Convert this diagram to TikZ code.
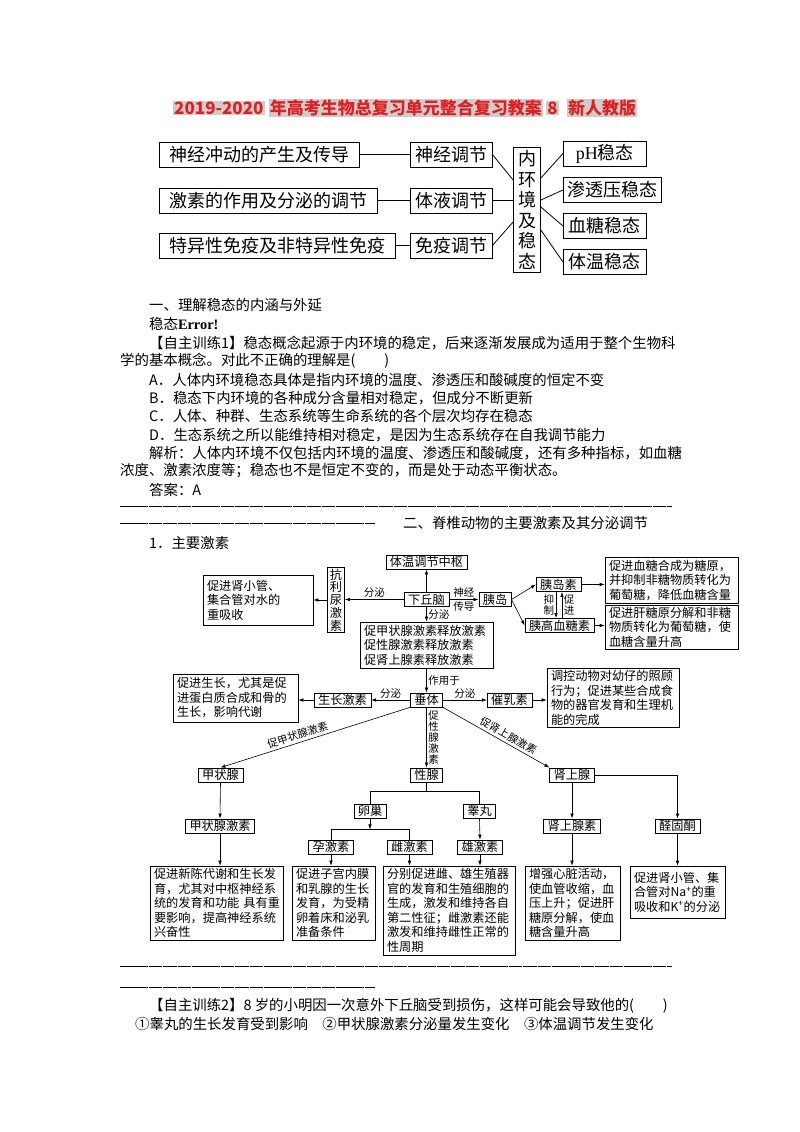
\documentclass[tikz,border=0pt]{standalone}
\usepackage{fontspec}
\setmainfont{Liberation Serif}
\newfontfamily\cjk{Noto Sans CJK SC}
\usetikzlibrary{arrows.meta,positioning}
\definecolor{titlered}{RGB}{228,30,30}
\definecolor{marker}{RGB}{205,205,205}

\tikzset{
  bodytext/.style={anchor=west,inner sep=0pt,font=\cjk\fontsize{14.4}{18}\selectfont},
  hilite/.style={fill=marker,text=titlered,inner sep=1pt,font=\cjk\bfseries\fontsize{17}{20}\selectfont},
  big/.style={draw,line width=0.8pt,inner xsep=10pt,inner ysep=0pt,minimum height=25pt,font=\cjk\fontsize{18}{20.5}\selectfont},
  bx/.style={draw,line width=0.6pt,inner xsep=4pt,inner ysep=2pt,align=left,font=\cjk\fontsize{12.2}{14.5}\selectfont},
  lab/.style={draw,line width=0.6pt,inner xsep=4pt,inner ysep=1.5pt,font=\cjk\fontsize{12.2}{14.5}\selectfont},
  lbl/.style={inner sep=1.5pt,font=\cjk\fontsize{10.5}{10.5}\selectfont},
  vlbl/.style={lbl,align=center,font=\cjk\fontsize{10.5}{11}\selectfont},
  arr/.style={-{Latex[length=5pt,width=3.5pt]},line width=0.6pt},
  sepline/.style={line width=0.9pt,dash pattern=on 13.5pt off 0.9pt}
}

\begin{document}
\begin{tikzpicture}[x=1pt,y=-1pt]
  \path[use as bounding box,fill=white] (0,0) rectangle (800,1132);

  % title
  \node[hilite,anchor=west] (ty) at (173,108) {2019-2020};
  \node[hilite,right=4pt of ty] (tt) {年高考生物总复习单元整合复习教案};
  \node[hilite,right=3pt of tt] (tn) {8};
  \node[hilite,right=8pt of tn] (tv) {新人教版};

  % overview
  \node[big,anchor=west] (n1) at (159,154.5) {神经冲动的产生及传导};
  \node[big,anchor=west] (n2) at (159,200.5) {激素的作用及分泌的调节};
  \node[big,anchor=west] (n3) at (159,245.5) {特异性免疫及非特异性免疫};
  \node[big,inner xsep=5pt] (m1) at (451,154.5) {神经调节};
  \node[big,inner xsep=5pt] (m2) at (451,200.5) {体液调节};
  \node[big,inner xsep=5pt] (m3) at (451,245.5) {免疫调节};
  \node[big,inner xsep=4.5pt,inner ysep=3pt,align=center] (hj) at (527,210) {内\\环\\境\\及\\稳\\态};
  \node[big,inner xsep=4pt,minimum width=83pt,anchor=west] (r1) at (563,153.5) {{\rmfamily pH}稳态};
  \node[big,inner xsep=4pt,minimum width=83pt,anchor=west] (r2) at (563,190) {渗透压稳态};
  \node[big,inner xsep=4pt,minimum width=83pt,anchor=west] (r3) at (563,226) {血糖稳态};
  \node[big,inner xsep=4pt,minimum width=83pt,anchor=west] (r4) at (563,262) {体温稳态};

  \begin{scope}[line width=0.8pt]
    \draw (n1.east) -- (m1.west);
    \draw (n2.east) -- (m2.west);
    \draw (n3.east) -- (m3.west);
    \draw (m1.east) -- ([yshift=30pt]hj.west);
    \draw (m2.east) -- (m2.east -| hj.west);
    \draw (m3.east) -- ([yshift=-12pt]hj.west);
    \draw ([yshift=32pt]hj.east) -- (r1.west);
    \draw ([yshift=10pt]hj.east) -- (r2.west);
    \draw ([yshift=3pt]hj.east) -- (r3.west);
    \draw ([yshift=-20pt]hj.east) -- (r4.west);
  \end{scope}

  % part one
  \node[bodytext] (t1) at (149,305) {一、理解稳态的内涵与外延};
  \node[bodytext] (t2) at (149,324) {稳态{\rmfamily\bfseries Error!}};
  \node[bodytext] (t3) at (149,343) {【自主训练1】稳态概念起源于内环境的稳定，后来逐渐发展成为适用于整个生物科};
  \node[bodytext] (t4) at (120,361) {学的基本概念。对此不正确的理解是(　　)};
  \node[bodytext] (t5) at (149,380) {A．人体内环境稳态具体是指内环境的温度、渗透压和酸碱度的恒定不变};
  \node[bodytext] (t6) at (149,398) {B．稳态下内环境的各种成分含量相对稳定，但成分不断更新};
  \node[bodytext] (t7) at (149,416) {C．人体、种群、生态系统等生命系统的各个层次均存在稳态};
  \node[bodytext] (t8) at (149,435) {D．生态系统之所以能维持相对稳定，是因为生态系统存在自我调节能力};
  \node[bodytext] (t9) at (149,453) {解析：人体内环境不仅包括内环境的温度、渗透压和酸碱度，还有多种指标，如血糖};
  \node[bodytext] (t10) at (120,471) {浓度、激素浓度等；稳态也不是恒定不变的，而是处于动态平衡状态。};
  \node[bodytext] (t11) at (149,490) {答案：A};
  \draw[sepline] (120,506) -- (672,506);
  \draw[sepline] (120,523) -- (375,523);
  \node[bodytext] (t12) at (403,523) {二、脊椎动物的主要激素及其分泌调节};
  \node[bodytext] (t13) at (149,543) {1．主要激素};

  % hormones
  \node[lab] (xqn) at (426.5,599.5) {下丘脑};
  \node[lab] (twzs) at (426.5,562) {体温调节中枢};
  \node[lab,inner xsep=2.5pt,align=center,font=\cjk\fontsize{12.2}{12.8}\selectfont] (klns) at (336,600) {抗\\利\\尿\\激\\素};
  \node[bx,text width=102pt,minimum height=50pt] (sxg) at (258,600) {促进肾小管、\\集合管对水的\\重吸收};
  \node[lab] (yd) at (495,599.5) {胰岛};
  \node[lab] (yds) at (558.5,584.5) {胰岛素};
  \node[lab] (ygxts) at (559.5,625.5) {胰高血糖素};
  \node[bx,text width=125pt,minimum height=46pt] (jx1) at (671.5,580) {促进血糖合成为糖原，\\并抑制非糖物质转化为\\葡萄糖，降低血糖含量};
  \node[bx,text width=125pt,minimum height=42pt] (jx2) at (671.5,627) {促进肝糖原分解和非糖\\物质转化为葡萄糖，使\\血糖含量升高};
  \node[bx,text width=125pt,minimum height=46pt] (sfjs) at (426.5,645) {促甲状腺激素释放激素\\促性腺激素释放激素\\促肾上腺素释放激素};
  \node[lab] (cht) at (426.5,700) {垂体};
  \node[lab] (szjs) at (342.5,700) {生长激素};
  \node[bx,text width=117pt,minimum height=48pt] (szxg) at (235.5,698) {促进生长，尤其是促\\进蛋白质合成和骨的\\生长，影响代谢};
  \node[lab] (crs) at (509.5,700) {催乳素};
  \node[bx,text width=124pt,minimum height=58pt] (crxg) at (613,698) {调控动物对幼仔的照顾\\行为；促进某些合成食\\物的器官发育和生理机\\能的完成};
  \node[lab] (jzx) at (220.5,775) {甲状腺};
  \node[lab] (xx) at (426.5,775) {性腺};
  \node[lab] (sx) at (572,775) {肾上腺};
  \node[lab] (jzxjs) at (220,826) {甲状腺激素};
  \node[lab] (lc) at (370,811) {卵巢};
  \node[lab] (gw) at (479.5,811) {睾丸};
  \node[lab] (yjs) at (331,847) {孕激素};
  \node[lab] (cjs) at (409.5,847) {雌激素};
  \node[lab] (xjs) at (480,847) {雄激素};
  \node[lab] (sxs) at (572,826) {肾上腺素};
  \node[lab] (qgt) at (677.5,826) {醛固酮};
  \node[bx,text width=125pt,minimum height=74pt] (jzxg) at (216.5,903) {促进新陈代谢和生长发\\育，尤其对中枢神经系\\统的发育和功能~具有重\\要影响，提高神经系统\\兴奋性};
  \node[bx,text width=75pt,minimum height=74pt] (yjxg) at (333.5,903) {促进子宫内膜\\和乳腺的生长\\发育，为受精\\卵着床和泌乳\\准备条件};
  \node[bx,text width=124pt,minimum height=89pt] (xjxg) at (449,910.5) {分别促进雌、雄生殖器\\官的发育和生殖细胞的\\生成，激发和维持各自\\第二性征；雌激素还能\\激发和维持雌性正常的\\性周期};
  \node[bx,text width=87pt,minimum height=74pt] (sxsxg) at (572.5,903) {增强心脏活动，\\使血管收缩，血\\压上升；促进肝\\糖原分解，使血\\糖含量升高};
  \node[bx,text width=87pt,minimum height=52pt] (qgtxg) at (677.5,892) {促进肾小管、集\\合管对Na\textsuperscript{+}的重\\吸收和K\textsuperscript{+}的分泌};

  \draw[arr] (xqn.north) -- (twzs.south);
  \draw[arr] (xqn.west) -- (xqn.west -| klns.east) node[midway,above,lbl] {分泌};
  \draw[arr] (klns.west) -- (klns.west -| sxg.east);
  \draw[arr] (xqn.east) -- (yd.west) node[midway,above,lbl] {神经} node[midway,below,lbl] {传导};
  \draw[arr] (xqn.south) -- (sfjs.north) node[midway,right,lbl] {分泌};
  \draw[arr] (yd.east) -- (yds.west);
  \draw[arr] (yd.east) -- (ygxts.west);
  \draw[arr] ([xshift=-2.5pt]yds.south) -- ([xshift=-2.5pt]yds.south |- ygxts.north) node[midway,left,vlbl] {抑\\制};
  \draw[arr] ([xshift=2.5pt]ygxts.north) -- ([xshift=2.5pt]ygxts.north |- yds.south) node[midway,right,vlbl] {促\\进};
  \draw[arr] (yds.east) -- (yds.east -| jx1.west);
  \draw[arr] (ygxts.east) -- (ygxts.east -| jx2.west);
  \draw[arr] (sfjs.south) -- (cht.north) node[midway,right,lbl] {作用于};
  \draw[arr] (cht.west) -- (szjs.east) node[midway,above,lbl] {分泌};
  \draw[arr] (szjs.west) -- (szjs.west -| szxg.east);
  \draw[arr] (cht.east) -- (crs.west) node[midway,above,lbl] {分泌};
  \draw[arr] (crs.east) -- (crs.east -| crxg.west);
  \draw[arr] (cht.south west) -- (jzx.north) node[pos=0.58,sloped,above=1pt,lbl] {促甲状腺激素};
  \draw[arr] (cht.south) -- (xx.north) node[midway,right,vlbl] {促\\性\\腺\\激\\素};
  \draw[arr] (cht.south east) -- (sx.north west) node[pos=0.58,sloped,above=1pt,lbl] {促肾上腺激素};
  \draw[arr] (jzx.south) -- (jzxjs.north);
  \draw[arr] (jzxjs.south) -- (jzxjs.south |- jzxg.north);
  \draw[line width=0.6pt] (xx.south) -- ++(0,9) coordinate (xxj);
  \draw[line width=0.6pt] (lc.north) |- (xxj) -| (gw.north);
  \draw[arr] (lc.south) -- ++(0,11) coordinate (lcj);
  \draw[line width=0.6pt] (yjs.north) |- (lcj) -| (cjs.north);
  \draw[arr] (gw.south) -- (xjs.north);
  \draw[arr] (yjs.south) -- (yjs.south |- yjxg.north);
  \draw[arr] (cjs.south) -- (cjs.south |- xjxg.north);
  \draw[arr] (xjs.south) -- (xjs.south |- xjxg.north);
  \draw[arr] (sx.south) -- (sxs.north);
  \draw[arr] (sxs.south) -- (sxs.south |- sxsxg.north);
  \draw[arr] (sx.east) -| (qgt.north);
  \draw[arr] (qgt.south) -- (qgt.south |- qgtxg.north);

  % part two
  \draw[sepline] (120,966) -- (672,966);
  \draw[sepline] (120,987) -- (375,987);
  \node[bodytext] (u1) at (149,1006) {【自主训练2】8 岁的小明因一次意外下丘脑受到损伤，这样可能会导致他的(　　)};
  \node[bodytext] (u2) at (135,1024) {①睾丸的生长发育受到影响　②甲状腺激素分泌量发生变化　③体温调节发生变化};
\end{tikzpicture}
\end{document}
